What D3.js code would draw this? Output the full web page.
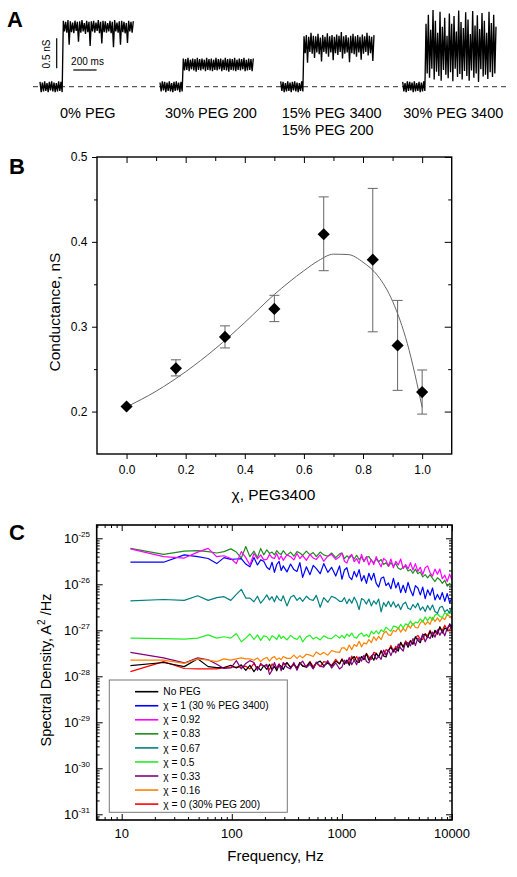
<!DOCTYPE html>
<html><head><meta charset="utf-8">
<script src="https://cdn.jsdelivr.net/npm/d3@7"></script>
<style>
body{margin:0;background:#fff;}
svg{display:block;font-family:Arial,"Liberation Sans",Helvetica,sans-serif;}
</style></head><body>
<svg id="fig" width="517" height="877"></svg>
<script>
// ================= DATA =================
// ---- Panel A : single-channel traces (conductance, nS), 10 ms samples ----
const sampleMs = 10;
const traceLabels = [["0% PEG"], ["30% PEG 200"], ["15% PEG 3400", "15% PEG 200"], ["30% PEG 3400"]];
const closed0 = [0.08,-0.09,0.07,-0.08,0.09,-0.07,0.06,-0.09,0.08,-0.06,0.09,-0.08,0.07,-0.09,0.06,-0.08,0.09,-0.07,0.08,-0.09];
const closed1 = [0.07,-0.08,0.09,-0.06,0.08,-0.09,0.07,-0.07,0.09,-0.08,0.06,-0.09,0.08,-0.07,0.09,-0.06,0.07,-0.09,0.08,-0.08];
const closed2 = [0.09,-0.07,0.08,-0.09,0.06,-0.08,0.09,-0.07,0.07,-0.09,0.08,-0.06,0.09,-0.08,0.07,-0.09,0.06,-0.07,0.09,-0.08];
const closed3 = [0.08,-0.08,0.06,-0.09,0.09,-0.07,0.08,-0.06,0.07,-0.09,0.09,-0.08,0.06,-0.07,0.08,-0.09,0.07,-0.08,0.09,-0.07];
const open0 = [
1.10,0.92,1.08,0.90,1.11,0.70,1.09,0.91,1.07,0.89,
1.10,0.93,1.08,0.75,1.09,0.90,1.11,0.92,1.06,0.88,
1.10,0.91,1.08,0.68,1.09,0.92,1.10,0.90,1.07,0.93,
1.11,0.89,1.08,0.72,1.10,0.91,1.09,0.90,1.06,0.92,
1.10,0.89,1.08,0.66,1.11,0.92,1.07,0.90,1.09,0.70,
1.10,0.91,1.08,0.89,1.06,0.73,1.10,0.92,1.08,0.90,
1.09];
const open1 = [
0.47,0.27,0.46,0.28,0.48,0.26,0.45,0.29,0.47,0.27,
0.46,0.25,0.48,0.28,0.46,0.27,0.47,0.29,0.45,0.26,
0.48,0.28,0.46,0.27,0.47,0.26,0.45,0.28,0.48,0.27,
0.46,0.29,0.47,0.26,0.45,0.28,0.48,0.27,0.46,0.25,
0.47,0.28,0.46,0.27,0.48,0.26,0.45,0.28,0.47,0.27,
0.46,0.29,0.48,0.26,0.45,0.27,0.47,0.28,0.46,0.26,
0.47];
const open2 = [
0.84,0.56,0.86,0.40,0.83,0.58,0.90,0.55,0.85,0.48,
0.84,0.57,0.88,0.54,0.82,0.42,0.86,0.58,0.83,0.55,
0.89,0.50,0.84,0.57,0.86,0.44,0.83,0.56,0.87,0.53,
0.85,0.58,0.91,0.47,0.84,0.55,0.86,0.57,0.82,0.41,
0.85,0.56,0.88,0.54,0.84,0.50,0.86,0.57,0.83,0.45,
0.87,0.55,0.84,0.58,0.90,0.52,0.85,0.56,0.83,0.43,
0.86];
const open3 = [
1.05,0.22,1.20,0.15,0.95,0.30,1.28,0.12,1.10,0.25,
0.90,0.18,1.25,0.10,1.00,0.28,1.15,0.20,0.85,0.14,
1.22,0.24,1.05,0.09,1.18,0.30,0.92,0.16,1.27,0.21,
1.08,0.12,0.98,0.26,1.24,0.18,1.12,0.10,0.88,0.27,
1.26,0.15,1.02,0.22,1.19,0.08,0.96,0.29,1.23,0.17,
1.10,0.20,0.90,0.13,1.25,0.24,1.06,0.16,1.20,0.22,
1.00];

// ---- Panel B : conductance vs mole fraction of PEG3400 ----
const chi = [0, 0.167, 0.333, 0.5, 0.667, 0.833, 0.917, 1.0];
const conductance = [0.206, 0.251, 0.288, 0.321, 0.409, 0.379, 0.278, 0.223];
const condLow  = [0.206, 0.242, 0.275, 0.306, 0.366, 0.294, 0.225, 0.197];
const condHigh = [0.206, 0.261, 0.301, 0.337, 0.453, 0.463, 0.331, 0.249];
const fitX = [0, 0.1, 0.2, 0.3, 0.4, 0.5, 0.6, 0.65, 0.7, 0.75, 0.8, 0.85, 0.9, 0.95, 1.0];
const fitY = [0.2055, 0.224, 0.247, 0.274, 0.305, 0.338, 0.366, 0.378, 0.3855, 0.385, 0.376, 0.360, 0.330, 0.280, 0.205];
const xTicksB = [0, 0.2, 0.4, 0.6, 0.8, 1.0];
const xMinorB = [0.1, 0.3, 0.5, 0.7, 0.9];
const yTicksB = [0.2, 0.3, 0.4, 0.5];
const yMinorB = [0.25, 0.35, 0.45];

// ---- Panel C : spectral densities, log10(A^2/Hz) ----
const freq = [12,24,37,49,61,73,85,98,110,122,134,146,159,171,183,195,
 208,220,232,244,256,269,281,293,317,342,366,391,415,440,476,513,549,586,635,684,745,806,879,952,
 1001,1054,1109,1167,1229,1293,1361,1433,1508,1587,1671,1758,1851,1948,2050,2158,2271,2391,2516,2648,
 2787,2934,3088,3250,3421,3601,3790,3989,4198,4419,4651,4895,5153,5423,5708,6008,6323,6655,7005,7373,
 7760,8168,8597,9048,9524,9985];
const psdNoPEG = [-27.77,-27.70,-27.79,-27.62,-27.79,-27.81,-27.81,-27.76,-27.82,-27.75,-27.87,-27.76,-27.90,-27.79,-27.87,-27.77,
 -27.85,-27.74,-27.86,-27.78,-27.88,-27.75,-27.78,-27.85,-27.70,-27.81,-27.73,-27.84,-27.70,-27.78,-27.80,-27.69,-27.83,-27.71,-27.67,-27.77,-27.71,-27.78,-27.67,-27.73,
 -27.63,-27.74,-27.65,-27.76,-27.62,-27.57,-27.68,-27.70,-27.57,-27.63,-27.51,-27.65,-27.56,-27.65,-27.50,-27.58,-27.45,-27.56,-27.58,-27.43,
 -27.37,-27.47,-27.39,-27.45,-27.26,-27.37,-27.26,-27.37,-27.23,-27.30,-27.14,-27.22,-27.27,-27.10,-27.09,-27.16,-27.02,-27.15,-27.00,-27.06,
 -26.92,-27.06,-26.95,-26.99,-26.86,-26.95];
const psdChi1 = [-25.52,-25.52,-25.36,-25.40,-25.44,-25.55,-25.42,-25.46,-25.45,-25.44,-25.56,-25.62,-25.42,-25.58,-25.47,-25.50,
 -25.63,-25.68,-25.52,-25.74,-25.57,-25.50,-25.70,-25.60,-25.73,-25.56,-25.68,-25.72,-25.53,-25.85,-25.62,-25.79,-25.59,-25.66,-25.77,-25.55,-25.74,-25.63,-25.82,-25.60,
 -25.89,-25.69,-25.64,-25.84,-25.90,-25.72,-25.84,-25.68,-25.93,-25.81,-25.98,-25.76,-25.91,-25.76,-25.98,-26.06,-25.87,-25.84,-26.03,-25.97,
 -26.10,-25.87,-26.08,-25.96,-26.18,-26.02,-26.18,-25.96,-26.13,-26.25,-26.03,-26.08,-26.23,-26.06,-26.31,-26.12,-26.24,-26.08,-26.34,-26.22,
 -26.33,-26.18,-26.37,-26.20,-26.40,-26.30];
const psdChi092 = [-25.23,-25.40,-25.43,-25.30,-25.22,-25.40,-25.38,-25.44,-25.55,-25.29,-25.42,-25.58,-25.33,-25.45,-25.36,-25.47,
 -25.46,-25.35,-25.42,-25.44,-25.33,-25.46,-25.38,-25.48,-25.36,-25.40,-25.47,-25.33,-25.44,-25.37,-25.48,-25.35,-25.43,-25.46,-25.36,-25.50,-25.39,-25.35,-25.46,-25.40,
 -25.32,-25.50,-25.54,-25.40,-25.35,-25.51,-25.44,-25.55,-25.35,-25.51,-25.40,-25.58,-25.46,-25.57,-25.40,-25.52,-25.62,-25.44,-25.48,-25.60,
 -25.45,-25.64,-25.50,-25.58,-25.45,-25.66,-25.57,-25.66,-25.53,-25.69,-25.55,-25.72,-25.63,-25.79,-25.64,-25.60,-25.75,-25.82,-25.67,-25.78,
 -25.67,-25.88,-25.80,-25.94,-25.78,-25.91];
const psdChi083 = [-25.22,-25.35,-25.28,-25.27,-25.29,-25.32,-25.29,-25.23,-25.30,-25.43,-25.18,-25.40,-25.28,-25.42,-25.22,-25.36,
 -25.25,-25.33,-25.30,-25.36,-25.27,-25.33,-25.35,-25.27,-25.37,-25.30,-25.39,-25.29,-25.32,-25.37,-25.28,-25.36,-25.31,-25.40,-25.30,-25.36,-25.39,-25.32,-25.42,-25.34,
 -25.32,-25.44,-25.38,-25.43,-25.37,-25.45,-25.37,-25.46,-25.41,-25.50,-25.41,-25.40,-25.48,-25.53,-25.45,-25.51,-25.46,-25.57,-25.53,-25.61,
 -25.53,-25.60,-25.55,-25.65,-25.68,-25.62,-25.61,-25.71,-25.68,-25.76,-25.67,-25.77,-25.73,-25.84,-25.79,-25.86,-25.79,-25.87,-25.94,-25.86,
 -25.90,-25.98,-25.91,-26.04,-25.98,-26.05];
const psdChi067 = [-26.36,-26.33,-26.35,-26.25,-26.35,-26.29,-26.27,-26.35,-26.22,-26.11,-26.30,-26.30,-26.38,-26.26,-26.41,-26.33,
 -26.23,-26.34,-26.27,-26.38,-26.25,-26.33,-26.36,-26.25,-26.47,-26.28,-26.24,-26.35,-26.29,-26.37,-26.26,-26.33,-26.35,-26.24,-26.50,-26.29,-26.39,-26.26,-26.30,-26.37,
 -26.37,-26.29,-26.42,-26.32,-26.41,-26.28,-26.38,-26.55,-26.31,-26.34,-26.43,-26.32,-26.47,-26.36,-26.43,-26.32,-26.60,-26.40,-26.48,-26.37,
 -26.49,-26.38,-26.50,-26.43,-26.55,-26.43,-26.39,-26.52,-26.55,-26.44,-26.51,-26.41,-26.56,-26.49,-26.59,-26.46,-26.56,-26.45,-26.59,-26.63,
 -26.50,-26.48,-26.60,-26.55,-26.63,-26.48];
const psdChi05 = [-27.17,-27.18,-27.19,-27.17,-27.10,-27.17,-27.14,-27.17,-27.07,-27.25,-27.17,-27.08,-27.20,-27.10,-27.22,-27.12,
 -27.14,-27.22,-27.12,-27.15,-27.20,-27.10,-27.18,-27.13,-27.21,-27.11,-27.17,-27.20,-27.12,-27.25,-27.14,-27.11,-27.19,-27.15,-27.21,-27.12,-27.17,-27.18,-27.10,-27.17,
 -27.11,-27.17,-27.08,-27.13,-27.06,-27.15,-27.17,-27.09,-27.06,-27.13,-27.09,-27.15,-27.02,-27.08,-27.01,-27.08,-26.99,-27.03,-26.93,-26.98,
 -27.02,-26.91,-26.92,-26.97,-26.87,-26.95,-26.86,-26.89,-26.80,-26.89,-26.82,-26.84,-26.75,-26.82,-26.71,-26.79,-26.71,-26.78,-26.67,-26.64,
 -26.70,-26.72,-26.62,-26.66,-26.58,-26.67];
const psdChi033 = [-27.48,-27.60,-27.71,-27.60,-27.64,-27.74,-27.83,-27.82,-27.66,-27.84,-27.72,-27.66,-27.70,-27.87,-27.72,-27.78,
 -27.74,-27.96,-27.87,-27.70,-27.83,-27.74,-27.88,-27.70,-27.80,-27.84,-27.70,-27.87,-27.73,-27.67,-27.81,-27.74,-27.84,-27.69,-27.78,-27.80,-27.66,-27.82,-27.71,-27.84,
 -27.80,-27.65,-27.72,-27.59,-27.75,-27.65,-27.75,-27.58,-27.67,-27.54,-27.68,-27.71,-27.56,-27.51,-27.63,-27.56,-27.63,-27.43,-27.54,-27.42,
 -27.55,-27.41,-27.49,-27.30,-27.39,-27.45,-27.26,-27.27,-27.34,-27.18,-27.33,-27.17,-27.23,-27.08,-27.25,-27.13,-27.18,-27.04,-27.15,-26.99,
 -27.11,-27.00,-27.12,-26.95,-26.89,-27.00];
const psdChi016 = [-27.65,-27.65,-27.72,-27.62,-27.65,-27.68,-27.62,-27.65,-27.62,-27.60,-27.62,-27.62,-27.65,-27.60,-27.68,-27.62,
 -27.59,-27.67,-27.60,-27.57,-27.64,-27.60,-27.64,-27.57,-27.61,-27.61,-27.54,-27.61,-27.55,-27.60,-27.52,-27.54,-27.57,-27.47,-27.53,-27.48,-27.54,-27.44,-27.47,-27.48,
 -27.38,-27.38,-27.44,-27.32,-27.42,-27.31,-27.35,-27.24,-27.36,-27.27,-27.30,-27.20,-27.27,-27.14,-27.22,-27.13,-27.20,-27.07,-27.02,-27.10,
 -27.11,-27.00,-27.03,-26.94,-27.04,-26.96,-27.02,-26.89,-26.95,-26.85,-26.94,-26.95,-26.84,-26.79,-26.88,-26.81,-26.87,-26.72,-26.81,-26.73,
 -26.81,-26.72,-26.77,-26.65,-26.70,-26.75];
const psdChi0 = [-27.90,-27.68,-27.83,-27.84,-27.84,-27.84,-27.81,-27.80,-27.80,-27.80,-27.78,-27.84,-27.72,-27.84,-27.75,-27.78,
 -27.77,-27.86,-27.73,-27.80,-27.82,-27.73,-27.84,-27.74,-27.71,-27.80,-27.75,-27.81,-27.71,-27.77,-27.78,-27.68,-27.79,-27.71,-27.79,-27.68,-27.70,-27.76,-27.63,-27.73,
 -27.62,-27.71,-27.65,-27.71,-27.56,-27.66,-27.57,-27.68,-27.57,-27.64,-27.50,-27.58,-27.63,-27.48,-27.50,-27.57,-27.44,-27.55,-27.42,-27.45,
 -27.33,-27.45,-27.35,-27.39,-27.27,-27.36,-27.23,-27.31,-27.22,-27.30,-27.16,-27.11,-27.19,-27.20,-27.07,-27.12,-27.00,-27.12,-27.02,-27.09,
 -26.94,-27.00,-26.89,-26.99,-27.00,-26.87];
const legendNames = ["No PEG", "\u03C7 = 1 (30 % PEG 3400)", "\u03C7 = 0.92", "\u03C7 = 0.83", "\u03C7 = 0.67", "\u03C7 = 0.5", "\u03C7 = 0.33", "\u03C7 = 0.16", "\u03C7 = 0 (30% PEG 200)"];
const xMajorC = [10, 100, 1000, 10000];
const yMajorExpC = [-31, -30, -29, -28, -27, -26, -25];

// ================= DRAWING =================
const svg = d3.select("#fig");
const FONT = "Arial, 'Liberation Sans', Helvetica, sans-serif";

function panelLetter(t, x, y) {
  svg.append("text").attr("x", x).attr("y", y).text(t)
    .attr("font-size", 22).attr("font-weight", "bold").attr("font-family", FONT);
}
panelLetter("A", 7, 27);
panelLetter("B", 9, 174);
panelLetter("C", 9, 540);

// ---------- Panel A ----------
const yA = d3.scaleLinear().domain([0, 0.5]).range([86.7, 56.7]);
const xA = d3.scaleLinear().domain([0, 800]).range([0, 93.3]);
const traceOrigins = [40, 160, 280.7, 402.7];
const traces = [closed0.concat(open0), closed1.concat(open1), closed2.concat(open2), closed3.concat(open3)];

svg.append("line").attr("x1", 33).attr("x2", 508).attr("y1", yA(0)).attr("y2", yA(0))
  .attr("stroke", "#333").attr("stroke-width", 1).attr("stroke-dasharray", "5,4");

const traceLine = d3.line().x((d, j) => xA(j * sampleMs)).y(d => yA(d));
traces.forEach((vals, i) => {
  svg.append("path").attr("transform", `translate(${traceOrigins[i]},0)`)
    .attr("d", traceLine(vals)).attr("fill", "none").attr("stroke", "#000").attr("stroke-width", 1.35);
});

// scale bars
const sbX = 56.7, sbTop = 38.3;
svg.append("line").attr("x1", sbX).attr("x2", sbX).attr("y1", sbTop).attr("y2", sbTop + (yA(0) - yA(0.5)))
  .attr("stroke", "#000").attr("stroke-width", 1.2);
const hbX = 73.3, hbY = 70;
svg.append("line").attr("x1", hbX).attr("x2", hbX + xA(200)).attr("y1", hbY).attr("y2", hbY)
  .attr("stroke", "#000").attr("stroke-width", 1.2);
svg.append("text").attr("transform", "translate(49.5,54) rotate(-90)").attr("text-anchor", "middle")
  .attr("font-size", 10).text("0.5 nS");
svg.append("text").attr("x", 87.5).attr("y", 65).attr("text-anchor", "middle").attr("font-size", 10).text("200 ms");

const labelXs = [60, 165, 281.7, 403.3];
traceLabels.forEach((lines, i) => {
  lines.forEach((t, k) => {
    svg.append("text").attr("x", labelXs[i]).attr("y", 118.3 + k * 16.7)
      .attr("font-size", 14.5).text(t);
  });
});

// ---------- Panel B ----------
const xB = d3.scaleLinear().domain([-0.1, 1.1]).range([97, 451.7]);
const yB = d3.scaleLinear().domain([0.15, 0.5]).range([454, 157]);

function styleAxis(g, fs) {
  g.select(".domain").remove();
  g.selectAll("line").attr("stroke", "#000").attr("stroke-width", 1);
  g.selectAll("text").attr("font-size", fs).attr("font-family", FONT).attr("fill", "#000");
}
const gB = svg.append("g");
const fmt1 = d3.format(".1f");
gB.append("g").attr("transform", "translate(0,454)")
  .call(d3.axisBottom(xB).tickValues(xTicksB).tickSize(5).tickPadding(6.5).tickFormat(fmt1)).call(g => styleAxis(g, 12));
gB.append("g").attr("transform", "translate(0,454)")
  .call(d3.axisBottom(xB).tickValues(xMinorB).tickSize(3).tickFormat("")).call(g => styleAxis(g, 12));
gB.append("g").attr("transform", "translate(0,157)")
  .call(d3.axisTop(xB).tickValues(xTicksB).tickSize(-6).tickFormat("")).call(g => styleAxis(g, 12));
gB.append("g").attr("transform", "translate(0,157)")
  .call(d3.axisTop(xB).tickValues(xMinorB).tickSize(-4).tickFormat("")).call(g => styleAxis(g, 12));
gB.append("g").attr("transform", "translate(97,0)")
  .call(d3.axisLeft(yB).tickValues(yTicksB).tickSize(5).tickPadding(4.5).tickFormat(fmt1)).call(g => styleAxis(g, 12));
gB.append("g").attr("transform", "translate(97,0)")
  .call(d3.axisLeft(yB).tickValues(yMinorB).tickSize(3).tickFormat("")).call(g => styleAxis(g, 12));
gB.append("g").attr("transform", "translate(451.7,0)")
  .call(d3.axisRight(yB).tickValues(yTicksB).tickSize(-7).tickFormat("")).call(g => styleAxis(g, 12));
gB.append("g").attr("transform", "translate(451.7,0)")
  .call(d3.axisRight(yB).tickValues(yMinorB).tickSize(-3.5).tickFormat("")).call(g => styleAxis(g, 12));
gB.append("rect").attr("x", 97).attr("y", 157).attr("width", 451.7 - 97).attr("height", 454 - 157)
  .attr("fill", "none").attr("stroke", "#000").attr("stroke-width", 1.4);

// fit curve
const fitPts = fitX.map((x, i) => [x, fitY[i]]);
gB.append("path").attr("d", d3.line().x(d => xB(d[0])).y(d => yB(d[1])).curve(d3.curveMonotoneX)(fitPts))
  .attr("fill", "none").attr("stroke", "#666").attr("stroke-width", 1);
// error bars
chi.forEach((c, i) => {
  if (condHigh[i] - condLow[i] < 0.001) return;
  const x = xB(c);
  const g = gB.append("g").attr("stroke", "#666").attr("stroke-width", 1);
  g.append("line").attr("x1", x).attr("x2", x).attr("y1", yB(condLow[i])).attr("y2", yB(condHigh[i]));
  g.append("line").attr("x1", x - 5).attr("x2", x + 5).attr("y1", yB(condLow[i])).attr("y2", yB(condLow[i]));
  g.append("line").attr("x1", x - 5).attr("x2", x + 5).attr("y1", yB(condHigh[i])).attr("y2", yB(condHigh[i]));
});
// markers
const diamond = d3.symbol().type(d3.symbolSquare).size(74);
chi.forEach((c, i) => {
  gB.append("path").attr("d", diamond())
    .attr("transform", `translate(${xB(c)},${yB(conductance[i])}) rotate(45)`).attr("fill", "#000");
});
svg.append("text").attr("x", 273.5).attr("y", 499.5).attr("text-anchor", "middle")
  .attr("font-size", 15.5).text("\u03C7, PEG3400");
svg.append("text").attr("transform", "translate(59.5,312) rotate(-90)").attr("text-anchor", "middle")
  .attr("font-size", 15.5).text("Conductance, nS");

// ---------- Panel C ----------
const cL = 96.7, cR = 452, cT = 525, cBot = 820;
const xC = d3.scaleLog().domain([5.93, 10000]).range([cL, cR]);
const yC = d3.scaleLog().domain([Math.pow(10, -31.124), Math.pow(10, -24.711)]).range([cBot, cT]);
const gC = svg.append("g");

const xMinorC = [];
[1, 10, 100, 1000].forEach(dec => { for (let k = 2; k <= 9; k++) { const v = k * dec; if (v >= 5.93 && v < 10000) xMinorC.push(v); } });
const yMajorC = yMajorExpC.map(e => Math.pow(10, e));
const yMinorC = [];
[-32, -31, -30, -29, -28, -27, -26, -25].forEach(e => { for (let k = 2; k <= 9; k++) { const v = k * Math.pow(10, e); if (v > yC.domain()[0] && v < yC.domain()[1]) yMinorC.push(v); } });

gC.append("g").attr("transform", `translate(0,${cBot})`).call(d3.axisBottom(xC).tickValues(xMajorC).tickSize(-6).tickFormat("")).call(g => styleAxis(g, 13));
gC.append("g").attr("transform", `translate(0,${cBot})`).call(d3.axisBottom(xC).tickValues(xMinorC).tickSize(-3).tickFormat("")).call(g => styleAxis(g, 13));
gC.append("g").attr("transform", `translate(0,${cT})`).call(d3.axisTop(xC).tickValues(xMajorC).tickSize(-6).tickFormat("")).call(g => styleAxis(g, 13));
gC.append("g").attr("transform", `translate(0,${cT})`).call(d3.axisTop(xC).tickValues(xMinorC).tickSize(-3).tickFormat("")).call(g => styleAxis(g, 13));
gC.append("g").attr("transform", `translate(${cL},0)`).call(d3.axisLeft(yC).tickValues(yMajorC).tickSize(-6).tickFormat("")).call(g => styleAxis(g, 13));
gC.append("g").attr("transform", `translate(${cL},0)`).call(d3.axisLeft(yC).tickValues(yMinorC).tickSize(-3).tickFormat("")).call(g => styleAxis(g, 13));
gC.append("g").attr("transform", `translate(${cR},0)`).call(d3.axisRight(yC).tickValues(yMajorC).tickSize(-6).tickFormat("")).call(g => styleAxis(g, 13));
gC.append("g").attr("transform", `translate(${cR},0)`).call(d3.axisRight(yC).tickValues(yMinorC).tickSize(-3).tickFormat("")).call(g => styleAxis(g, 13));

xMajorC.forEach(v => {
  svg.append("text").attr("x", xC(v)).attr("y", 838).attr("text-anchor", "middle").attr("font-size", 13).text(String(v));
});
yMajorExpC.forEach(e => {
  const t = svg.append("text").attr("x", 90).attr("y", yC(Math.pow(10, e)) + 4.7).attr("text-anchor", "end").attr("font-size", 13);
  t.append("tspan").text("10");
  t.append("tspan").attr("dy", -5.5).attr("font-size", 8).text(String(e));
});

svg.append("clipPath").attr("id", "clipC").append("rect").attr("x", cL).attr("y", cT).attr("width", cR - cL).attr("height", cBot - cT);

const seriesC = [
  { v: psdChi0, c: "#ff0000" },
  { v: psdNoPEG, c: "#000000" },
  { v: psdChi033, c: "#800080" },
  { v: psdChi016, c: "#ff8000" },
  { v: psdChi05, c: "#22ee22" },
  { v: psdChi067, c: "#008080" },
  { v: psdChi083, c: "#1e8c1e" },
  { v: psdChi1, c: "#0000ff" },
  { v: psdChi092, c: "#ff00ff" }
];
const psdLine = d3.line().x((d, i) => xC(freq[i])).y(d => yC(Math.pow(10, d)));
const gLines = gC.append("g").attr("clip-path", "url(#clipC)");
seriesC.forEach(s => {
  gLines.append("path").attr("d", psdLine(s.v)).attr("fill", "none").attr("stroke", s.c).attr("stroke-width", 1.2).attr("stroke-linejoin", "round");
});

gC.append("rect").attr("x", cL).attr("y", cT).attr("width", cR - cL).attr("height", cBot - cT)
  .attr("fill", "none").attr("stroke", "#000").attr("stroke-width", 1.6);

// legend
const legendColors = ["#000000", "#0000ff", "#ff00ff", "#1e8c1e", "#008080", "#22ee22", "#800080", "#ff8000", "#ff0000"];
const lg = gC.append("g");
lg.append("rect").attr("x", 109.3).attr("y", 680).attr("width", 287.3 - 109.3).attr("height", 812.3 - 680)
  .attr("fill", "#fff").attr("stroke", "#777").attr("stroke-width", 1);
legendNames.forEach((n, i) => {
  const y = 691.7 + i * 14.05;
  lg.append("line").attr("x1", 135).attr("x2", 158.3).attr("y1", y).attr("y2", y).attr("stroke", legendColors[i]).attr("stroke-width", 1.6);
  lg.append("text").attr("x", 163.3).attr("y", y + 3.6).attr("font-size", 10.2).text(n);
});

svg.append("text").attr("x", 275.5).attr("y", 861).attr("text-anchor", "middle").attr("font-size", 15).text("Frequency, Hz");
const yt = svg.append("text").attr("transform", "translate(51,670) rotate(-90)").attr("text-anchor", "middle").attr("font-size", 14.5);
yt.append("tspan").text("Spectral Density, A");
yt.append("tspan").attr("dy", -6).attr("font-size", 10).text("2");
yt.append("tspan").attr("dy", 6).text(" /Hz");
</script>
</body></html>
